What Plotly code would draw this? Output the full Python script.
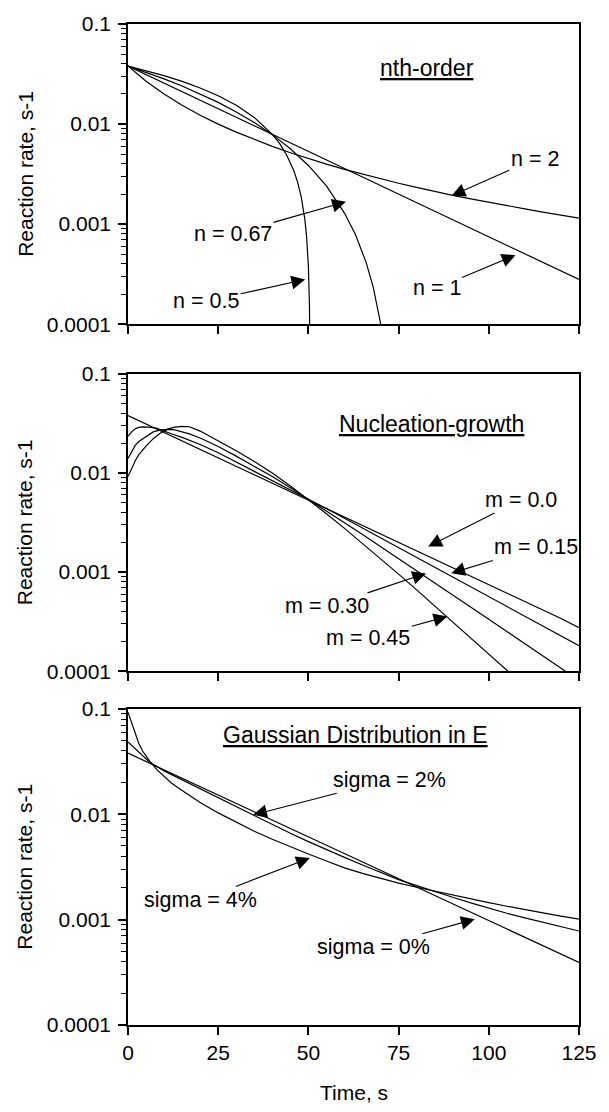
import math
import plotly.graph_objects as go

# ---------------- data ----------------
time_ticks = [0, 25, 50, 75, 100, 125]
time_tick_text = ["0", "25", "50", "75", "100", "125"]
rate_tickvals = [0.0001, 0.001, 0.01, 0.1]
rate_ticktext = ["0.0001", "0.001", "0.01", "0.1"]

# Panel 1: nth-order
t_step5 = [0, 5, 10, 15, 20, 25, 30, 35, 40, 45, 50, 55, 60, 65, 70, 75, 80, 85, 90, 95,
           100, 105, 110, 115, 120, 125]
rate_n1 = [0.0380, 0.03122, 0.02565, 0.02107, 0.01732, 0.01423, 0.01169, 0.00960, 0.00789,
           0.00648, 0.00533, 0.00438, 0.00360, 0.00295, 0.00243, 0.00199, 0.00164, 0.00135,
           0.00111, 0.00091, 0.000746, 0.000613, 0.000504, 0.000414, 0.00034, 0.00028]
rate_n2 = [0.038, 0.02684, 0.01996, 0.01542, 0.01227, 0.00999, 0.0083, 0.0070, 0.00598,
           0.00517, 0.00452, 0.00398, 0.00353, 0.00316, 0.00284, 0.00256, 0.00233, 0.00212,
           0.00194, 0.00179, 0.00165, 0.00153, 0.00142, 0.00132, 0.00123, 0.00115]
t_n05 = [0, 5, 10, 15, 20, 25, 30, 35, 40, 42, 44, 46, 47, 48, 49, 49.5, 50, 50.3, 50.45]
rate_n05 = [0.038, 0.03424, 0.03048, 0.02671, 0.02295, 0.01919, 0.01543, 0.01166, 0.0079,
            0.0064, 0.00489, 0.00339, 0.00263, 0.00188, 0.00113, 0.00075, 0.000376,
            0.00015, 0.0000376]
t_n067 = [0, 5, 10, 15, 20, 25, 30, 35, 40, 45, 50, 55, 60, 63, 66, 68, 70, 71]
rate_n067 = [0.038, 0.03297, 0.02831, 0.02399, 0.02004, 0.01646, 0.01322, 0.01035, 0.00784,
             0.00567, 0.00386, 0.00241, 0.00129, 0.000793, 0.000415, 0.000232, 0.000102,
             0.0000567]

# Panel 2: nucleation-growth
rate_m00 = [0.0380, 0.03122, 0.02565, 0.02107, 0.01732, 0.01423, 0.01169, 0.00960, 0.00789,
            0.00648, 0.00533, 0.00438, 0.00360, 0.00295, 0.00243, 0.00199, 0.00164, 0.00135,
            0.00111, 0.00091, 0.000746, 0.000613, 0.000504, 0.000414, 0.00034, 0.000275]
t_m15 = [0, 1, 2, 3, 4, 6, 8, 10, 12, 15, 20, 25, 30, 35, 40, 45, 50, 55, 60, 65, 70, 75,
         80, 85, 90, 95, 100, 105, 110, 115, 120, 125]
rate_m15 = [0.0234, 0.026, 0.028, 0.0289, 0.0292, 0.0291, 0.0282, 0.0264, 0.0249, 0.0229,
            0.0194, 0.0160, 0.0129, 0.0104, 0.0084, 0.0068, 0.0055, 0.00438, 0.00349,
            0.00278, 0.00221, 0.00176, 0.0014, 0.00112, 0.00089, 0.00071, 0.000565,
            0.00045, 0.000358, 0.000285, 0.000227, 0.000181]
t_m30 = [0, 1, 2, 3, 5, 7, 9, 11, 13, 15, 17, 20, 25, 30, 35, 40, 45, 50, 55, 60, 65, 70,
         75, 80, 85, 90, 95, 100, 105, 110, 115, 120, 125]
rate_m30 = [0.014, 0.0165, 0.019, 0.0208, 0.0235, 0.026, 0.0272, 0.0276, 0.0272, 0.0262,
            0.0248, 0.0226, 0.0185, 0.0148, 0.0117, 0.0092, 0.0071, 0.00545, 0.00415,
            0.00315, 0.00239, 0.00181, 0.00137, 0.00103, 0.00078, 0.00059, 0.000445,
            0.000335, 0.000252, 0.00019, 0.000143, 0.000107, 0.0000805]
t_m45 = [0, 1, 2, 3, 5, 7, 9, 11, 13, 15, 17, 20, 25, 30, 35, 40, 45, 50, 55, 60, 65, 70,
         75, 80, 85, 90, 95, 100, 105, 110]
rate_m45 = [0.0092, 0.0112, 0.0133, 0.0153, 0.0187, 0.0222, 0.0254, 0.0277, 0.029, 0.0295,
            0.0293, 0.0265, 0.0212, 0.0168, 0.0131, 0.0100, 0.0074, 0.0054, 0.00388,
            0.00276, 0.00195, 0.00137, 0.000953, 0.000662, 0.000457, 0.000314, 0.000216,
            0.000149, 0.000102, 0.0000703]

# Panel 3: Gaussian distribution in E
rate_s0 = [0.038, 0.03165, 0.02635, 0.02195, 0.01828, 0.01522, 0.01268, 0.01056, 0.00879,
           0.00732, 0.0061, 0.00508, 0.00423, 0.00352, 0.00293, 0.00244, 0.00203, 0.00169,
           0.00141, 0.00117, 0.000978, 0.000815, 0.000679, 0.000565, 0.000471, 0.000392]
t_s2 = [0, 3, 6, 10, 15, 20, 25, 30, 35, 40, 45, 50, 55, 60, 65, 70, 75, 80, 85, 90, 95,
        100, 105, 110, 115, 120, 125]
rate_s2 = [0.0485, 0.039, 0.0312, 0.0258, 0.0212, 0.0175, 0.0143, 0.0117, 0.0096, 0.0079,
           0.0066, 0.0055, 0.0046, 0.0039, 0.0033, 0.0028, 0.0024, 0.0021, 0.00184, 0.00163,
           0.00144, 0.00128, 0.00115, 0.00104, 0.00094, 0.00085, 0.00078]
t_s4 = [0, 1, 2, 3, 4, 5, 6, 8, 10, 12, 15, 20, 25, 30, 35, 40, 45, 50, 55, 60, 65, 70,
        75, 80, 85, 90, 95, 100, 105, 110, 115, 120, 125]
rate_s4 = [0.093, 0.075, 0.058, 0.047, 0.04, 0.0355, 0.032, 0.0265, 0.0228, 0.0198, 0.0168,
           0.0129, 0.0103, 0.0084, 0.0069, 0.0058, 0.0049, 0.0042, 0.0036, 0.0031, 0.00275,
           0.00245, 0.00222, 0.00203, 0.00186, 0.00171, 0.00157, 0.00145, 0.00134, 0.00124,
           0.00116, 0.00108, 0.00101]

panel_titles = ["nth-order", "Nucleation-growth", "Gaussian Distribution in E"]
y_title = "Reaction rate, s-1"
x_title = "Time, s"

# curve labels: (text, panel, tip time, tip rate, text dx px, text dy px)
curve_labels = [
    ("n = 2", 1, 89.7, 0.00192, 83, -37),
    ("n = 0.67", 1, 60.4, 0.00167, -113, 32),
    ("n = 0.5", 1, 49.1, 0.00028, -99, 22),
    ("n = 1", 1, 107.4, 0.00049, -79, 33),
    ("m = 0.0", 2, 83.2, 0.00181, 93, -47),
    ("m = 0.15", 2, 89.6, 0.000975, 85, -26),
    ("m = 0.30", 2, 82.6, 0.00097, -99, 33),
    ("m = 0.45", 2, 88.5, 0.000357, -79, 22),
    ("sigma = 2%", 3, 34.7, 0.00988, 136, -35),
    ("sigma = 4%", 3, 50.4, 0.00385, -109, 42),
    ("sigma = 0%", 3, 96.1, 0.00101, -101, 28),
]
title_pos = [(82.8, 0.0363), (84.2, 0.0314), (63.0, 0.0561)]

# ---------------- figure ----------------
FONT = "Liberation Sans, Arial, sans-serif"
W, H = 609, 1112
ML, MR, MT, MB = 128, 18, 18, 87
domains = [[0.7001, 1.0], [0.3535, 0.6504], [0.0, 0.3158]]

fig = go.Figure()
line = dict(color="black", width=1.2)

def add(x, y, p):
    fig.add_trace(go.Scatter(x=x, y=y, mode="lines", line=line, showlegend=False,
                             xaxis="x" if p == 1 else f"x{p}",
                             yaxis="y" if p == 1 else f"y{p}", hoverinfo="skip"))

add(t_step5, rate_n2, 1)
add(t_step5, rate_n1, 1)
add(t_n067, rate_n067, 1)
add(t_n05, rate_n05, 1)
add(t_step5, rate_m00, 2)
add(t_m15, rate_m15, 2)
add(t_m30, rate_m30, 2)
add(t_m45, rate_m45, 2)
add(t_step5, rate_s0, 3)
add(t_s2, rate_s2, 3)
add(t_s4, rate_s4, 3)

minor_vals = [m * 10.0 ** e for e in (-4, -3, -2) for m in range(2, 10)]

layout = dict(width=W, height=H, margin=dict(l=ML, r=MR, t=MT, b=MB, pad=0),
              paper_bgcolor="white", plot_bgcolor="white",
              font=dict(family=FONT, color="black", size=21), showlegend=False)

for p in (1, 2, 3):
    sx = "" if p == 1 else str(p)
    layout[f"xaxis{sx}"] = dict(
        domain=[0, 1], anchor=f"y{sx}", range=[0, 125], tickmode="array",
        tickvals=time_ticks, ticktext=time_tick_text, showticklabels=(p == 3),
        ticks="outside", ticklen=8, tickwidth=1.5, tickcolor="black",
        showline=True, linecolor="black", linewidth=1.5, mirror=True,
        showgrid=False, zeroline=False, tickfont=dict(size=21, family=FONT))
    layout[f"yaxis{sx}"] = dict(
        domain=domains[p - 1], anchor=f"x{sx}", type="log", range=[-4, -1],
        tickmode="array", tickvals=rate_tickvals, ticktext=rate_ticktext,
        ticks="outside", ticklen=8, tickwidth=1.5, tickcolor="black",
        ticklabelstandoff=3,
        minor=dict(tickmode="array", tickvals=minor_vals, ticks="outside", ticklen=5,
                   tickwidth=1, tickcolor="black", showgrid=False),
        showline=True, linecolor="black", linewidth=1.5, mirror=True,
        showgrid=False, zeroline=False, tickfont=dict(size=21, family=FONT))

annotations = []
for i, (tt, (tx, ty)) in enumerate(zip(panel_titles, title_pos)):
    p = i + 1
    sx = "" if p == 1 else str(p)
    annotations.append(dict(text=f"<u>{tt}</u>", x=tx, y=math.log10(ty),
                            xref=f"x{sx}", yref=f"y{sx}", showarrow=False,
                            font=dict(size=23, family=FONT)))
for (txt, p, tx, ty, dx, dy) in curve_labels:
    sx = "" if p == 1 else str(p)
    annotations.append(dict(text=txt, x=tx, y=math.log10(ty), xref=f"x{sx}",
                            yref=f"y{sx}", showarrow=True, ax=dx, ay=dy,
                            arrowhead=2, arrowsize=2.5, arrowwidth=1.1,
                            arrowcolor="black", standoff=0, startstandoff=0,
                            font=dict(size=21.5, family=FONT)))
for d in domains:
    annotations.append(dict(text=y_title, x=-0.229, y=(d[0] + d[1]) / 2, xref="paper",
                            yref="paper", showarrow=False, textangle=-90,
                            xanchor="center", yanchor="middle",
                            font=dict(size=21, family=FONT)))
annotations.append(dict(text=x_title, x=0.5, y=-0.067, xref="paper", yref="paper",
                        showarrow=False, xanchor="center", yanchor="middle",
                        font=dict(size=21, family=FONT)))
layout["annotations"] = annotations

fig.update_layout(**layout)
fig.write_html("out.html")
